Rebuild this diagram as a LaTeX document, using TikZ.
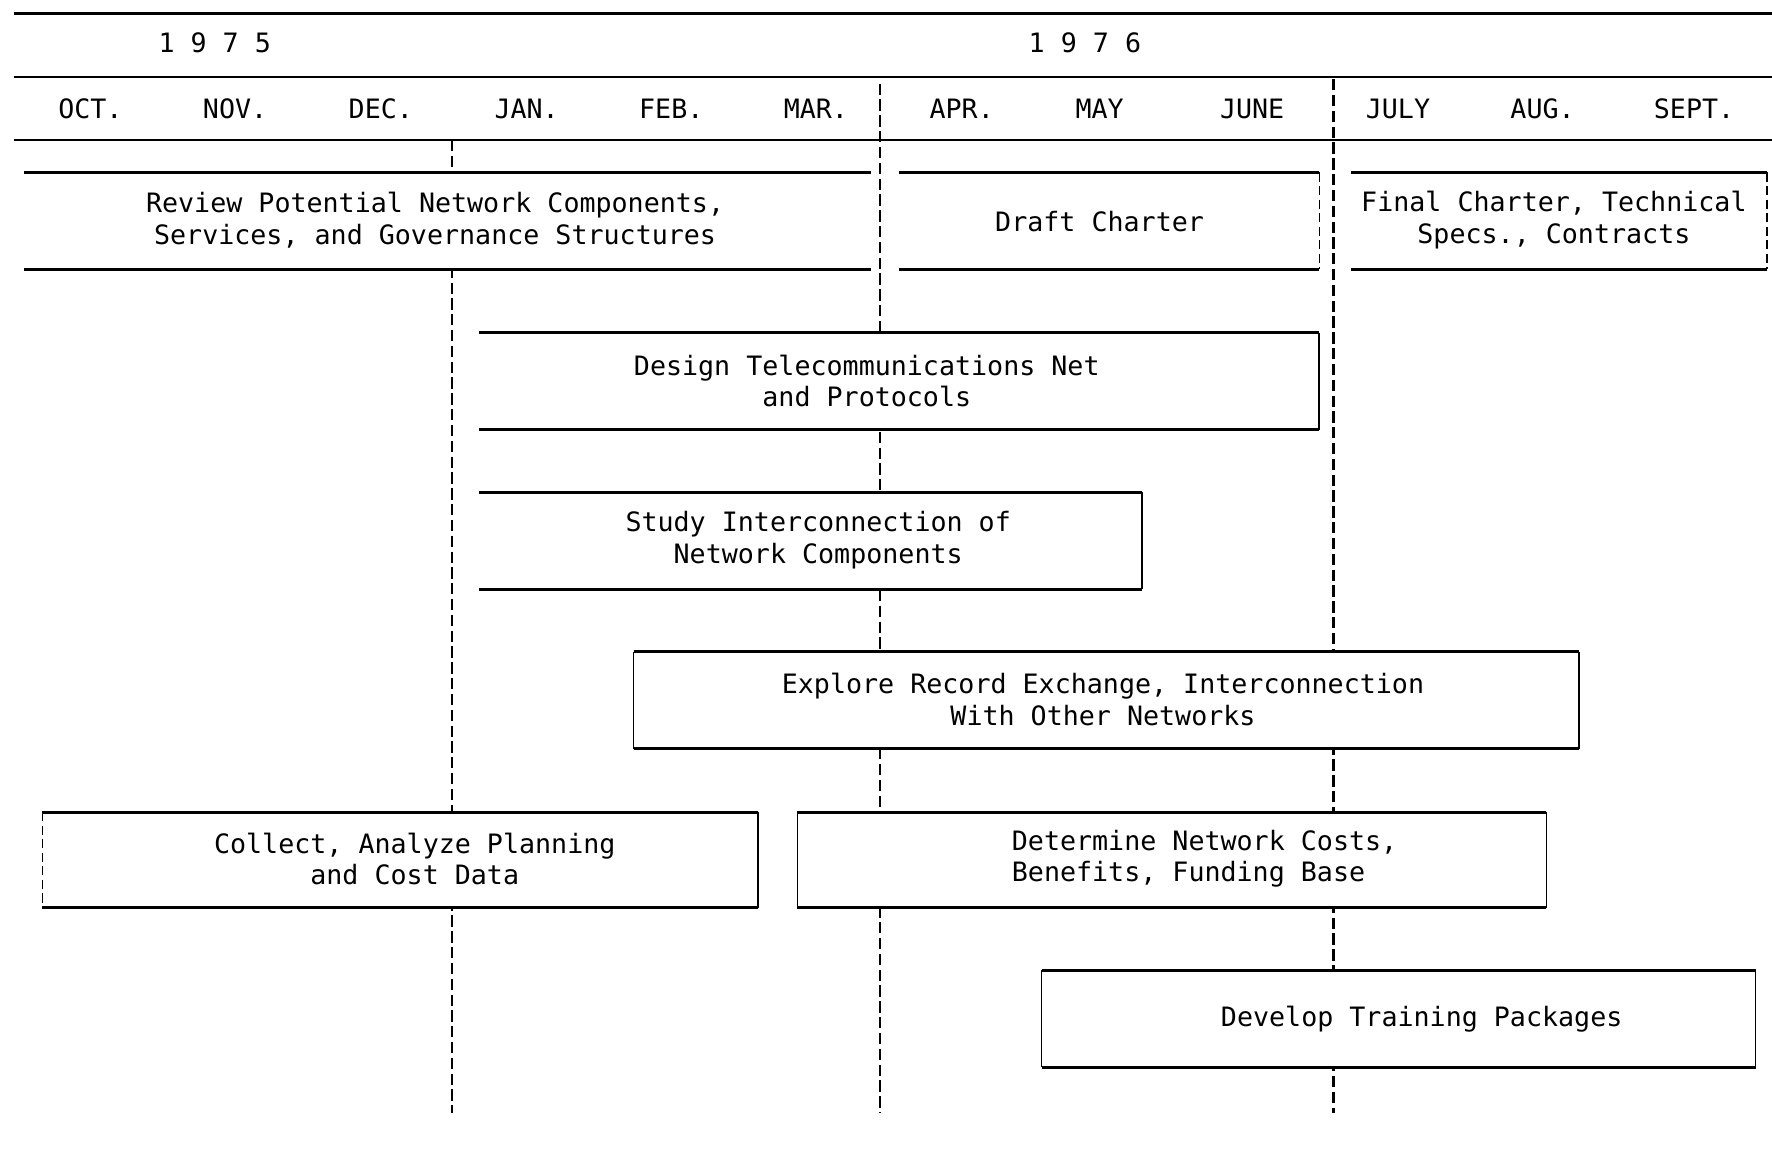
\documentclass[tikz,border=0pt]{standalone}
\usepackage{fontspec}
\setmonofont{DejaVu Sans Mono}
\usetikzlibrary{fit}
\begin{document}
\begin{tikzpicture}[x=0.5pt,y=-0.5pt,
  txt/.style={font=\ttfamily\fontsize{11.8}{14}\selectfont, align=center, inner sep=0pt},
  bar/.style={line width=1.3pt},
  side/.style={line width=0.8pt},
  sidedash/.style={line width=0.7pt, dash pattern=on 4pt off 2pt},
  gridline/.style={line width=1pt, dash pattern=on 5pt off 2pt},
  hline/.style={line width=1.1pt},
  box/.style={fill=white, draw=none, inner sep=0pt}
]
\useasboundingbox (0,0) rectangle (1568,1018);
\fill[white] (0,0) rectangle (1568,1018);

% header lines
\coordinate (h1a) at (12,12);  \coordinate (h1b) at (1568,12);
\coordinate (h2a) at (12,68);  \coordinate (h2b) at (1568,68);
\coordinate (h3a) at (12,124); \coordinate (h3b) at (1568,124);
\draw[hline] (h1a) -- (h1b);
\draw[hline] (h2a) -- (h2b);
\draw[hline] (h3a) -- (h3b);

% years
\node[txt] (y75) at (190,38) {1 9 7 5};
\node[txt] (y76) at (960,38) {1 9 7 6};

% months
\foreach \m/\x/\n in {OCT./80/oct, NOV./208/nov, DEC./337/dec, JAN./466/jan, FEB./594/feb, MAR./722/mar, APR./851/apr, MAY/973/may, JUNE/1108/jun, JULY/1237/jul, AUG./1365/aug, SEPT./1499/sep}
  \node[txt] (\n) at (\x,96) {\m};

% dashed grid lines
\coordinate (g1t) at (400,124);  \coordinate (g1b) at (400,985);
\coordinate (g2t) at (779,74);   \coordinate (g2b) at (779,985);
\coordinate (g3t) at (1180,70);  \coordinate (g3b) at (1180,985);
\draw[gridline] (g1t) -- (g1b);
\draw[gridline] (g2t) -- (g2b);
\draw[gridline] (g3t) -- (g3b);

% box corners
\coordinate (rA) at (22,153);  \coordinate (rB) at (770,238);
\coordinate (dA) at (796,153); \coordinate (dB) at (1167,238);
\coordinate (fA) at (1196,153);\coordinate (fB) at (1563,238);
\coordinate (tA) at (424,295); \coordinate (tB) at (1167,380);
\coordinate (sA) at (424,436); \coordinate (sB) at (1010,521);
\coordinate (eA) at (561,577); \coordinate (eB) at (1397,662);
\coordinate (cA) at (38,719);  \coordinate (cB) at (670,803);
\coordinate (nA) at (706,719); \coordinate (nB) at (1368,803);
\coordinate (vA) at (922,859); \coordinate (vB) at (1553,944);

\node[box, fit=(rA)(rB)] (review) {};
\node[box, fit=(dA)(dB)] (draft) {};
\node[box, fit=(fA)(fB)] (final) {};
\node[box, fit=(tA)(tB)] (design) {};
\node[box, fit=(sA)(sB)] (study) {};
\node[box, fit=(eA)(eB)] (explore) {};
\node[box, fit=(cA)(cB)] (collect) {};
\node[box, fit=(nA)(nB)] (determine) {};
\node[box, fit=(vA)(vB)] (develop) {};

% top and bottom bars
\foreach \b in {review,draft,final,design,study,explore,collect,determine,develop}{
  \draw[bar] (\b.north west) -- (\b.north east);
  \draw[bar] (\b.south west) -- (\b.south east);
}
% sides
\draw[sidedash] (draft.north east) -- (draft.south east);
\draw[sidedash] (final.north east) -- (final.south east);
\draw[side] (design.north east) -- (design.south east);
\draw[side] (study.north east) -- (study.south east);
\draw[side] (explore.north west) -- (explore.south west);
\draw[side] (explore.north east) -- (explore.south east);
\draw[sidedash] (collect.north west) -- (collect.south west);
\draw[side] (collect.north east) -- (collect.south east);
\draw[side] (determine.north west) -- (determine.south west);
\draw[side] (determine.north east) -- (determine.south east);
\draw[side] (develop.north west) -- (develop.south west);
\draw[side] (develop.north east) -- (develop.south east);

% texts
\node[txt] (reviewT) at (385,195) {Review Potential Network Components,\\Services, and Governance Structures};
\node[txt] (draftT) at (973,196) {Draft Charter};
\node[txt] (finalT) at (1375,195) {Final Charter, Technical\\Specs., Contracts};
\node[txt] (designT) at (767,337) {Design Telecommunications Net\\and Protocols};
\node[txt] (studyT) at (724,478) {Study Interconnection of\\Network Components};
\node[txt] (exploreT) at (976,619) {Explore Record Exchange, Interconnection\\With Other Networks};
\node[txt] (collectT) at (367,760) {Collect, Analyze Planning\\and Cost Data};
\node[txt, align=left, anchor=west] (determineT) at (895,760) {Determine Network Costs,\\Benefits, Funding Base};
\node[txt] (developT) at (1258,902) {Develop Training Packages};
\end{tikzpicture}
\end{document}
